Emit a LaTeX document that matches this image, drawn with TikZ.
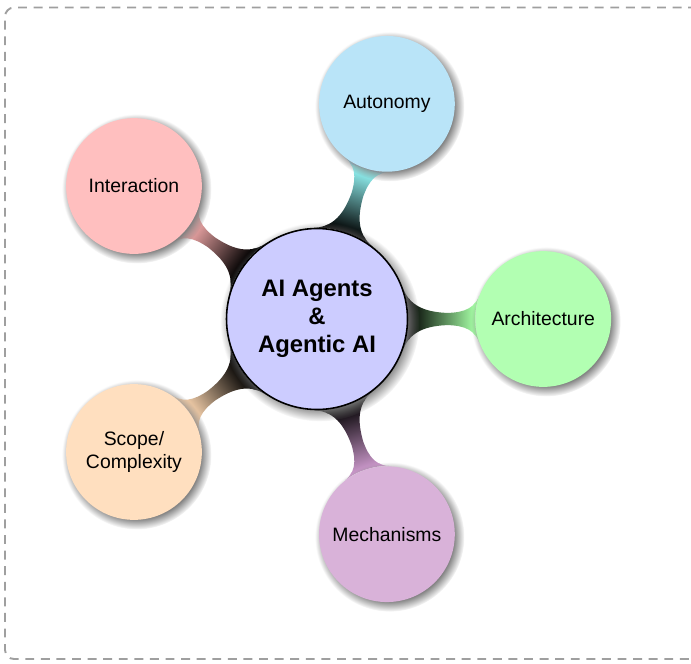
\documentclass[tikz,border=0pt]{standalone}
\usepackage{fontspec}
\setmainfont{Liberation Sans}
\usetikzlibrary{mindmap,shadows,backgrounds}
\definecolor{autofill}{RGB}{185,228,248}
\begin{document}
\begin{tikzpicture}[
  conceptbase/.style={circle, inner sep=0pt, align=center, text=black, circular drop shadow},
  rootc/.style={conceptbase, minimum size=4cm, fill=blue!20, draw=black, line width=1pt,
    font=\fontsize{15}{17.8}\selectfont\bfseries},
  childc/.style={conceptbase, minimum size=3cm, font=\fontsize{12.2}{15}\selectfont},
  frame/.style={draw=gray!75, line width=1.2pt, dash pattern=on 5.6pt off 4.2pt, rounded corners=0.2cm},
  bar/.style={line width=0.27cm}
]
\useasboundingbox (-7.006,-7.624) rectangle (8.265,7.050);
\coordinate (ftr) at (8.4,6.884);
\coordinate (fbr) at (8.4,-7.514);
\draw[frame] (ftr) -- (-6.895,6.884) -- (-6.895,-7.514) -- (fbr);

\node[rootc] (root) at (0,0) {AI Agents\\\&\\Agentic AI};
\node[childc, fill=green!30] (arch) at (0:5) {Architecture};
\node[childc, fill=autofill] (auto) at (72:5) {Autonomy};
\node[childc, fill=red!25] (inter) at (144:5) {Interaction};
\node[childc, fill=orange!25] (scope) at (216:5) {Scope/\\Complexity};
\node[childc, fill=violet!30] (mech) at (288:5) {Mechanisms};

\begin{pgfonlayer}{background}
\path[bar] (root) to[circle connection bar switch color=from (black) to (green!35)] (arch);
\path[bar] (root) to[circle connection bar switch color=from (black) to (cyan!40)] (auto);
\path[bar] (root) to[circle connection bar switch color=from (black) to (red!30)] (inter);
\path[bar] (root) to[circle connection bar switch color=from (black) to (orange!30)] (scope);
\path[bar] (root) to[circle connection bar switch color=from (black) to (violet!40)] (mech);
\end{pgfonlayer}
\end{tikzpicture}
\end{document}
